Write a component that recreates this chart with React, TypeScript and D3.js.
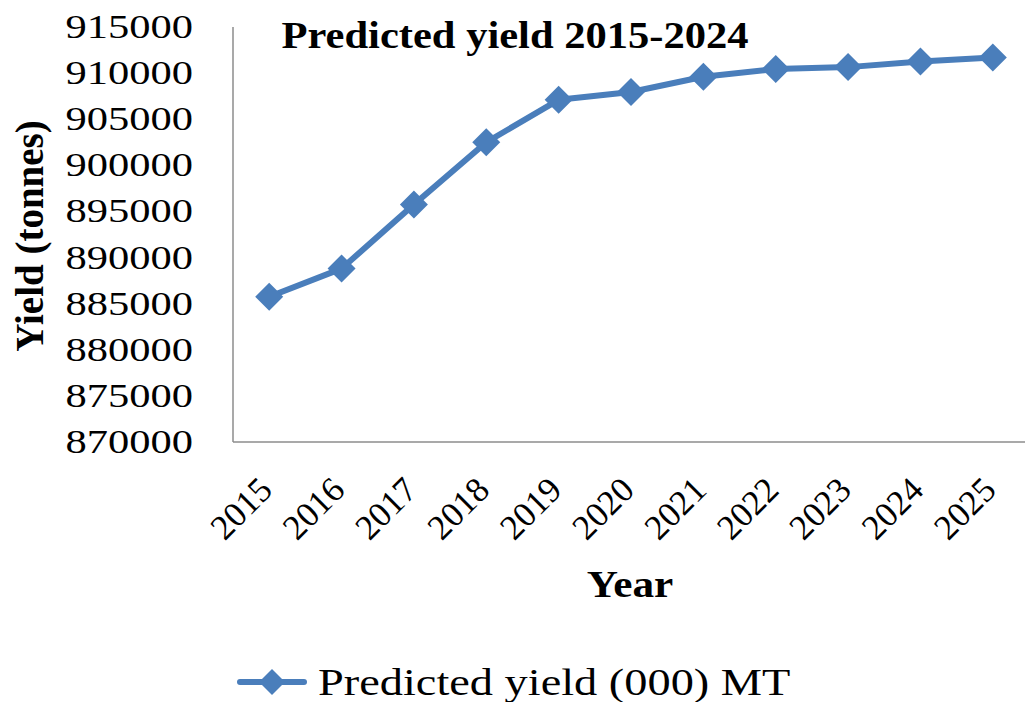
import React from "react";
import * as d3 from "d3";

const years = ["2015", "2016", "2017", "2018", "2019", "2020", "2021", "2022", "2023", "2024", "2025"];
const predictedYield = [885750, 888800, 895750, 902500, 907100, 907950, 909600, 910450, 910650, 911250, 911700];
const yTicks = [870000, 875000, 880000, 885000, 890000, 895000, 900000, 905000, 910000, 915000];

const W = 1025;
const H = 702;
const left = 233;
const right = 1029;
const top = 27;
const bottom = 442;
const SX = 1.25;
const BLUE = "#4a7ebb";
const SERIF = "'Liberation Serif', 'Times New Roman', serif";

export default function App() {
  const x = d3.scaleBand<string>().domain(years).range([left, right]);
  const y = d3.scaleLinear().domain([870000, 915000]).range([bottom, top]);
  const cx = (yr: string) => (x(yr) as number) + x.bandwidth() / 2;

  const line = d3
    .line<number>()
    .x((_, i) => cx(years[i]))
    .y((d) => y(d));

  const diamond = (px: number, py: number, r: number) =>
    `M${px},${py - r}L${px + r},${py}L${px},${py + r}L${px - r},${py}Z`;

  return (
    <svg width={W} height={H} style={{ position: "absolute", left: 0, top: 0, background: "#fff" }}>
      <rect x={0} y={0} width={W} height={H} fill="#fff" />
      {/* axes */}
      <line x1={left} y1={top} x2={left} y2={bottom} stroke="#8c8c8c" strokeWidth={1.5} />
      <line x1={left} y1={bottom} x2={right} y2={bottom} stroke="#8c8c8c" strokeWidth={1.5} />

      {/* y tick labels */}
      {yTicks.map((t) => (
        <text
          key={t}
          transform={`translate(193,${y(t) + 11}) scale(${SX},1)`}
          textAnchor="end"
          fontFamily={SERIF}
          fontSize={34}
          fill="#000"
        >
          {t}
        </text>
      ))}

      {/* x tick labels */}
      {years.map((yr) => (
        <text
          key={yr}
          transform={`translate(${cx(yr) + 5},${bottom + 50}) rotate(-45)`}
          textAnchor="end"
          fontFamily={SERIF}
          fontSize={35}
          fill="#000"
        >
          {yr}
        </text>
      ))}

      {/* series */}
      <path d={line(predictedYield) || ""} fill="none" stroke={BLUE} strokeWidth={6} strokeLinejoin="round" />
      {predictedYield.map((v, i) => (
        <path key={i} d={diamond(cx(years[i]), y(v), 14)} fill={BLUE} />
      ))}

      {/* title */}
      <text
        transform={`translate(515,48) scale(1.15,1)`}
        textAnchor="middle"
        fontFamily={SERIF}
        fontWeight="bold"
        fontSize={37}
        fill="#000"
      >
        Predicted yield 2015-2024
      </text>

      {/* y axis title */}
      <text
        transform={`translate(43,236) rotate(-90)`}
        textAnchor="middle"
        fontFamily={SERIF}
        fontWeight="bold"
        fontSize={39}
        fill="#000"
      >
        Yield (tonnes)
      </text>

      {/* x axis title */}
      <text
        transform={`translate(630,597) scale(1.17,1)`}
        textAnchor="middle"
        fontFamily={SERIF}
        fontWeight="bold"
        fontSize={37}
        fill="#000"
      >
        Year
      </text>

      {/* legend */}
      <line x1={240} y1={682} x2={304} y2={682} stroke={BLUE} strokeWidth={6} strokeLinecap="round" />
      <path d={diamond(272, 682, 13)} fill={BLUE} />
      <text
        transform={`translate(318,695) scale(1.22,1)`}
        fontFamily={SERIF}
        fontSize={38}
        fill="#000"
      >
        Predicted yield (000) MT
      </text>
    </svg>
  );
}
